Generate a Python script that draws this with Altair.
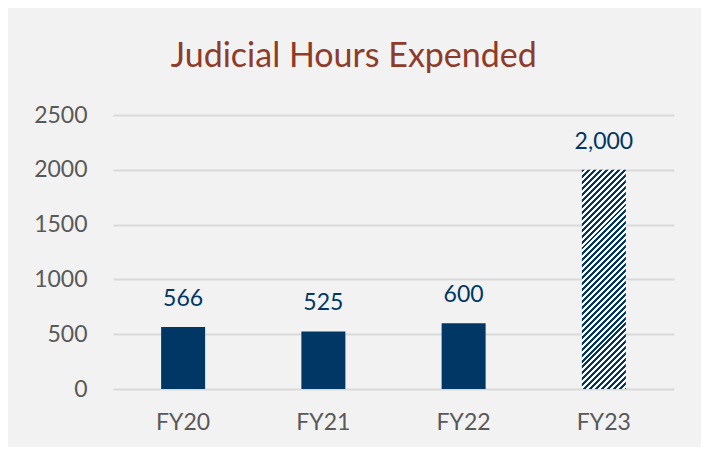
import altair as alt
import pandas as pd

years = ["FY20", "FY21", "FY22", "FY23"]
hours = [566, 525, 600, 2000]
labels = ["566", "525", "600", "2,000"]
projected = [False, False, False, True]
y_ticks = [0, 500, 1000, 1500, 2000, 2500]

df = pd.DataFrame({"year": years, "hours": hours, "label": labels, "projected": projected})

NAVY = "#003764"
GRAY_TXT = "#595959"
BG = "#f2f2f2"

W, H = 561, 274
Y_MAX = 2500
BAR_W = 44

# diagonal hatch built as a hard-stop linear gradient (45 deg in pixel space)
bar_h = hours[3] / Y_MAX * H
a, b = 1.2 * BAR_W / bar_h, 1.2
t_per_px = (a / BAR_W) / (a * a + b * b)
period_px = 6.0
n = int(1 / (t_per_px * period_px)) + 1
stops = []
for i in range(n):
    s = i / n
    m = (i + 0.5) / n
    e = (i + 1) / n
    stops += [alt.GradientStop(offset=s, color=NAVY), alt.GradientStop(offset=m, color=NAVY),
              alt.GradientStop(offset=m, color="#ffffff"), alt.GradientStop(offset=e, color="#ffffff")]
hatch = alt.LinearGradient(gradient="linear", x1=0, y1=0, x2=a, y2=b, stops=stops)

x_enc = alt.X("year:N", sort=years, title=None,
              scale=alt.Scale(paddingInner=0, paddingOuter=0),
              axis=alt.Axis(labelAngle=0, ticks=False, domain=False, labelFontSize=23,
                            labelColor=GRAY_TXT, labelFont="Lato", labelPadding=22))
y_enc = alt.Y("hours:Q", title=None, scale=alt.Scale(domain=[0, Y_MAX], nice=False),
              axis=alt.Axis(values=y_ticks, format="d", ticks=False, domain=False, labelFontSize=23,
                            labelColor=GRAY_TXT, labelFont="Lato", labelPadding=26,
                            gridColor="#d9d9d9", gridWidth=2))

base = alt.Chart(df).encode(x=x_enc, y=y_enc)

solid = base.transform_filter("!datum.projected").mark_bar(size=BAR_W, color=NAVY)
hatched = base.transform_filter("datum.projected").mark_bar(size=BAR_W, color=hatch)
text = base.mark_text(dy=-21, baseline="alphabetic", fontSize=23, font="Lato", color=NAVY).encode(
    text="label:N")

chart = (solid + hatched + text).properties(
    width=W, height=H,
    title=alt.Title("Judicial Hours Expended", fontSize=34, font="Lato", color="#8e3b2a",
                    fontWeight="normal", anchor="middle", frame="bounds", offset=30),
    background=BG,
    autosize=alt.AutoSizeParams(type="none"),
    padding={"left": 105, "top": 107, "right": 27, "bottom": 58},
).configure_view(stroke=None)

chart.save("out.html", embed_options={"renderer": "svg", "actions": False})
